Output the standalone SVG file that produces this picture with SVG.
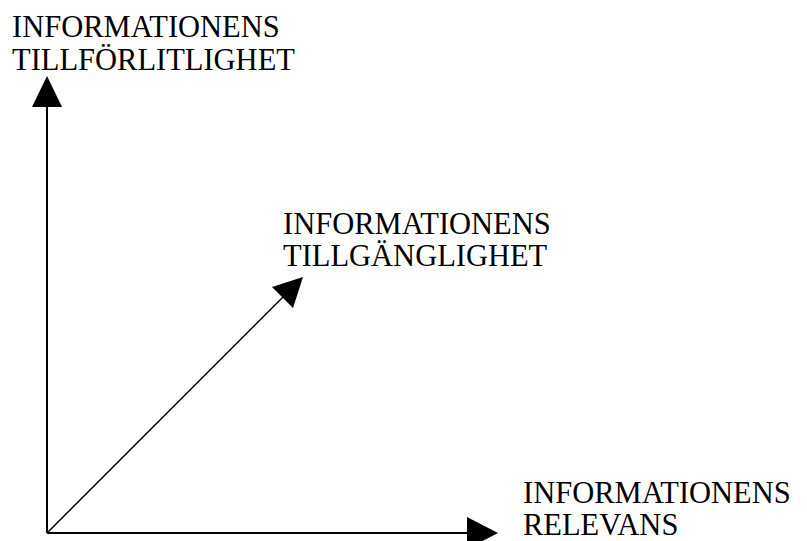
<svg xmlns="http://www.w3.org/2000/svg" width="807" height="541" viewBox="0 0 807 541">
  <style>
    .lbl { font-family: "Liberation Serif", "Times New Roman", serif; font-size: 30.5px; fill: #000; }
    .ax { stroke: #000; stroke-width: 2; fill: none; }
    .diag { stroke: #000; stroke-width: 1.5; fill: none; }
    .head { fill: #000; }
  </style>
  <rect width="807" height="541" fill="#fff"/>
  <g id="connectors">
    <!-- vertical axis -->
    <line class="ax" x1="47" y1="533" x2="47" y2="104"/>
    <polygon class="head" points="47,76 32,107 62,107"/>
    <!-- horizontal axis -->
    <line class="ax" x1="47" y1="533" x2="470" y2="533"/>
    <polygon class="head" points="498,533 467,517 467,549"/>
    <!-- diagonal axis -->
    <line class="diag" x1="47" y1="533" x2="284" y2="296"/>
    <polygon class="head" points="303,277 272,287 293,308"/>
  </g>
  <g id="node-tillforlitlighet">
    <text class="lbl" x="12" y="37">INFORMATIONENS</text>
    <text class="lbl" x="12" y="70">TILLFÖRLITLIGHET</text>
  </g>
  <g id="node-tillganglighet">
    <text class="lbl" x="283" y="234">INFORMATIONENS</text>
    <text class="lbl" x="283" y="266">TILLGÄNGLIGHET</text>
  </g>
  <g id="node-relevans">
    <text class="lbl" x="523" y="503">INFORMATIONENS</text>
    <text class="lbl" x="523" y="535">RELEVANS</text>
  </g>
</svg>
